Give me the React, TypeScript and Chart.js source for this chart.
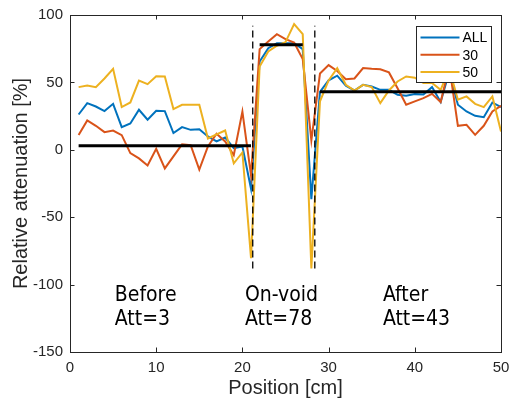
import { useEffect, useRef } from 'react';
import { Chart, registerables } from 'chart.js';
Chart.register(...registerables);

const positions = [1, 2, 3, 4, 5, 6, 7, 8, 9, 10, 11, 12, 13, 14, 15, 16, 17, 18, 19, 20, 21, 22, 23, 24, 25, 26, 27, 28, 29, 30, 31, 32, 33, 34, 35, 36, 37, 38, 39, 40, 41, 42, 43, 44, 45, 46, 47, 48, 49, 50];

const seriesAll = [26.2, 34.6, 32.1, 28.7, 34.1, 16.8, 19.5, 29.7, 22.3, 28.9, 28.7, 12.4, 16.8, 14.8, 15.3, 9.9, 6.2, 9.1, 1.2, 2.5, -28.9, 65.5, 75.4, 79.1, 79.1, 79.1, 74.7, -36.6, 43, 51.5, 55, 47.5, 44, 48.2, 47, 44.5, 44.5, 40.8, 40.1, 41.3, 41, 46.5, 35.5, 58, 33.4, 28.4, 25.2, 24.2, 35.1, 31.7];

const series30 = [10.9, 21.8, 17.8, 13.1, 14.3, 10.9, -2.5, -6.4, -11.6, 0.7, -13.8, -4.9, 4, 3.5, -14.6, 2.5, 11.9, 6.2, -4, 28.4, -19, 74.7, 80.4, 85.8, 82.1, 79.6, 67.3, 7, 56.6, 62.8, 58.5, 52.4, 52.9, 60.6, 60.1, 59.8, 57.4, 45.7, 33.4, 35.9, 38.3, 41.5, 35.4, 62, 17.8, 18.5, 11.1, 17.8, 28.4, 32.6];

const series50 = [46.5, 47.7, 46.5, 52.9, 60.1, 31.7, 35.1, 51.4, 48.7, 54.6, 54.4, 30.2, 33.4, 33.4, 33.4, 8.4, 11.4, 14.3, -10.1, -2, -80.4, 61.8, 72.9, 77.2, 79.9, 93.2, 85.8, -88, 36, 51.5, 60.6, 48.2, 44, 48.2, 46.5, 34.6, 44, 50.7, 54.4, 53.5, 49.5, 49.5, 44.5, 60, 37.1, 39.6, 34.1, 31.7, 39.6, 13.6];

const seriesNames = ['ALL', '30', '50'];
const seriesColors = ['#0072BD', '#D95319', '#EDB120'];

const levelNames = ['Before', 'On-void', 'After'];
const levelValues = [3, 78, 43];
const levelStart = [1, 22, 29];
const levelEnd = [21, 27, 50];

const voidBoundaries = [21.2, 28.4];
const boundaryRange = [-88, 92];

const labelX = [5.2, 20.3, 36.3];
const labelLine1Y = -112;
const labelLine2Y = -130;

const xTicks = [0, 10, 20, 30, 40, 50];
const yTicks = [-150, -100, -50, 0, 50, 100];

const TEXT = '#262626';
const FONT = '"Liberation Sans", Arial, sans-serif';

const framePlugin = {
  id: 'frame',
  afterDatasetsDraw(chart: any) {
    const { ctx, chartArea: a, scales } = chart;
    ctx.save();
    ctx.strokeStyle = TEXT;
    ctx.lineWidth = 1;
    ctx.strokeRect(Math.round(a.left) + 0.5, Math.round(a.top) + 0.5, Math.round(a.right - a.left), Math.round(a.bottom - a.top));
    const tl = 4.5;
    ctx.beginPath();
    xTicks.forEach((v) => {
      const px = Math.round(scales.x.getPixelForValue(v)) + 0.5;
      ctx.moveTo(px, a.bottom); ctx.lineTo(px, a.bottom - tl);
      ctx.moveTo(px, a.top); ctx.lineTo(px, a.top + tl);
    });
    yTicks.forEach((v) => {
      const py = Math.round(scales.y.getPixelForValue(v)) + 0.5;
      ctx.moveTo(a.left, py); ctx.lineTo(a.left + tl, py);
      ctx.moveTo(a.right, py); ctx.lineTo(a.right - tl, py);
    });
    ctx.stroke();

    // annotations
    ctx.fillStyle = '#000';
    ctx.font = '21px Tahoma, "DejaVu Sans Condensed", "Liberation Sans", sans-serif';
    ctx.textAlign = 'left';
    ctx.textBaseline = 'alphabetic';
    levelNames.forEach((name, i) => {
      const px = scales.x.getPixelForValue(labelX[i]);
      ctx.fillText(name, px, scales.y.getPixelForValue(labelLine1Y));
      ctx.fillText('Att=' + levelValues[i], px, scales.y.getPixelForValue(labelLine2Y));
    });

    // axis titles
    ctx.fillStyle = TEXT;
    ctx.font = '20px ' + FONT;
    ctx.textAlign = 'center';
    ctx.textBaseline = 'middle';
    ctx.fillText('Position [cm]', (a.left + a.right) / 2, 388);
    ctx.save();
    ctx.translate(21, (a.top + a.bottom) / 2);
    ctx.rotate(-Math.PI / 2);
    ctx.fillText('Relative attenuation [%]', 0, 0);
    ctx.restore();

    // legend
    const bw = 75, bh = 56;
    const bx = Math.round(a.right - 10 - bw) + 0.5;
    const by = Math.round(a.top + 11) + 0.5;
    ctx.fillStyle = '#fff';
    ctx.fillRect(bx, by, bw, bh);
    ctx.strokeStyle = TEXT;
    ctx.lineWidth = 1;
    ctx.strokeRect(bx, by, bw, bh);
    ctx.font = '14px ' + FONT;
    ctx.textAlign = 'left';
    ctx.textBaseline = 'middle';
    seriesNames.forEach((n, i) => {
      const cy = by + 11 + i * 17.3;
      ctx.strokeStyle = seriesColors[i];
      ctx.lineWidth = 2;
      ctx.beginPath();
      ctx.moveTo(bx + 4, cy); ctx.lineTo(bx + 43, cy);
      ctx.stroke();
      ctx.fillStyle = '#000';
      ctx.fillText(n, bx + 46, cy + 1);
    });
    ctx.restore();
  },
};

export default function App() {
  const ref = useRef<HTMLCanvasElement>(null);
  useEffect(() => {
    document.body.style.margin = '0';
    const canvas = ref.current!;
    const seriesData = [seriesAll, series30, series50];
    const datasets: any[] = [];
    seriesData.forEach((s, i) => {
      datasets.push({
        label: seriesNames[i],
        data: positions.map((x, j) => ({ x, y: s[j] })),
        borderColor: seriesColors[i],
        backgroundColor: seriesColors[i],
        borderWidth: 2,
        pointRadius: 0,
        showLine: true,
        tension: 0,
        order: 3 - i,
      });
    });
    levelValues.forEach((v, i) => {
      datasets.push({
        label: 'level ' + levelNames[i],
        data: [{ x: levelStart[i], y: v }, { x: levelEnd[i], y: v }],
        borderColor: '#000',
        borderWidth: 3,
        pointRadius: 0,
        showLine: true,
        order: 0,
      });
    });
    voidBoundaries.forEach((b) => {
      datasets.push({
        label: 'boundary',
        data: [{ x: b, y: boundaryRange[0] }, { x: b, y: boundaryRange[1] }],
        borderColor: '#000',
        borderWidth: 1.3,
        borderDash: [7, 4],
        pointRadius: 0,
        showLine: true,
        order: 0,
      });
    });
    const chart = new Chart(canvas, {
      type: 'scatter',
      data: { datasets },
      plugins: [framePlugin],
      options: {
        animation: false,
        responsive: false,
        devicePixelRatio: 1,
        layout: { padding: { top: 15, right: 9, left: 0, bottom: 0 } },
        plugins: { legend: { display: false }, tooltip: { enabled: false } },
        scales: {
          x: {
            type: 'linear',
            min: 0,
            max: 50,
            afterBuildTicks: (s: any) => { s.ticks = xTicks.map((v) => ({ value: v })); },
            afterFit: (s: any) => { s.height = 51; s.paddingLeft = 0; s.paddingRight = 0; },
            grid: { display: false, drawTicks: false },
            border: { display: false },
            ticks: { color: TEXT, font: { family: FONT, size: 15 }, padding: 7, maxRotation: 0 },
          },
          y: {
            type: 'linear',
            min: -150,
            max: 100,
            afterBuildTicks: (s: any) => { s.ticks = yTicks.map((v) => ({ value: v })); },
            afterFit: (s: any) => { s.width = 70; s.paddingTop = 0; s.paddingBottom = 0; },
            grid: { display: false, drawTicks: false },
            border: { display: false },
            ticks: { color: TEXT, font: { family: FONT, size: 15 }, padding: 7 },
          },
        },
      },
    });
    return () => chart.destroy();
  }, []);
  return <canvas ref={ref} width={510} height={403} style={{ display: 'block', width: 510, height: 403 }} />;
}
